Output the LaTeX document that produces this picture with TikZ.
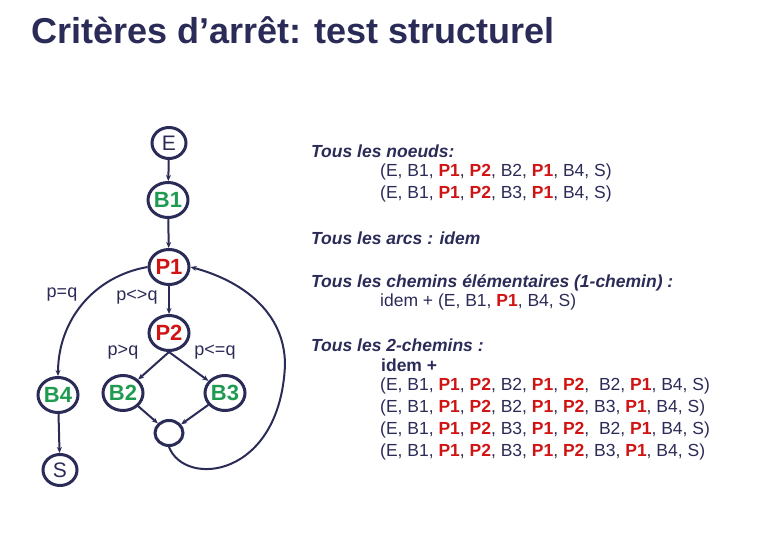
\documentclass[tikz,border=0pt]{standalone}
\usepackage{fontspec}
\setmainfont{Liberation Sans}
\usetikzlibrary{shapes.geometric,arrows.meta}
\definecolor{navy}{RGB}{43,43,88}
\definecolor{grn}{RGB}{30,155,80}
\definecolor{rd}{RGB}{208,20,20}
\newcommand{\Pa}{\textcolor{rd}{\textbf{P1}}}
\newcommand{\Pb}{\textcolor{rd}{\textbf{P2}}}
\begin{document}
\begin{tikzpicture}[x=1pt,y=-1pt,
  nd/.style={ellipse,draw=navy,line width=3pt,minimum width=40pt,minimum height=35pt,inner sep=0pt,font=\fontsize{22}{24}\selectfont\bfseries},
  sm/.style={nd,minimum width=34pt,minimum height=31pt,font=\fontsize{21}{23}\selectfont},
  ed/.style={draw=navy,line width=2pt,-{Stealth[length=6pt,width=5pt]}},
  lbl/.style={text=navy,font=\fontsize{18}{20}\selectfont,inner sep=0pt},
  txt/.style={text=navy,font=\fontsize{17.5}{20}\selectfont,inner sep=0pt,anchor=west},
  hd/.style={txt,font=\fontsize{17.5}{20}\selectfont\bfseries\itshape}]
\useasboundingbox (0,0) rectangle (780,540);
\node[anchor=west,text=navy,font=\fontsize{36}{40}\selectfont\bfseries,inner sep=0pt] (title) at (31,30) {Critères d’arrêt: test structurel};
% graph
\node[sm,text=navy] (E) at (169,143) {E};
\node[nd,text=grn] (B1) at (168,200) {B1};
\node[nd,text=rd] (P1) at (169,267) {P1};
\node[nd,text=rd] (P2) at (169,333) {P2};
\node[nd,text=grn] (B2) at (123,393) {B2};
\node[nd,text=grn] (B3) at (225,393) {B3};
\node[nd,text=grn] (B4) at (58,395) {B4};
\node[sm,text=navy] (S) at (60,470) {S};
\node[ellipse,draw=navy,line width=3pt,minimum width=28pt,minimum height=25pt,inner sep=0pt] (J) at (169,433) {};
\coordinate (loopR) at (285,365);
\draw[ed] (E) -- (B1);
\draw[ed] (B1) -- (P1);
\draw[ed] (P1) -- (P2);
\draw[ed] (P2.south) -- (B2);
\draw[ed] (P2.south) -- (B3);
\draw[ed] (B2) -- (J);
\draw[ed] (B3) -- (J);
\draw[ed] (B4) -- (S);
\draw[ed] (P1.west) to[out=190,in=90] (B4.north);
\draw[ed] (J.south) .. controls (185,488) and (280,478) .. (loopR) to[out=90,in=-15] (P1.east);
\node[lbl] (l1) at (62,295) {p=q};
\node[lbl] (l2) at (137,297) {p<>q};
\node[lbl] (l3) at (123,352) {p>q};
\node[lbl] (l4) at (215,352) {p<=q};
% text
\node[hd] (h1) at (311,151) {Tous les noeuds:};
\node[txt] (t1) at (380,172) {(E, B1, \Pa, \Pb, B2, \Pa, B4, S)};
\node[txt] (t2) at (380,194) {(E, B1, \Pa, \Pb, B3, \Pa, B4, S)};
\node[hd] (h2) at (311,238) {Tous les arcs : idem};
\node[hd] (h3) at (311,283) {Tous les chemins élémentaires (1-chemin) :};
\node[txt] (t3) at (380,302) {idem + (E, B1, \Pa, B4, S)};
\node[hd] (h4) at (311,345) {Tous les 2-chemins :};
\node[txt,font=\fontsize{17.5}{20}\selectfont\bfseries] (t4) at (381,365) {idem +};
\node[txt] (t5) at (380,386) {(E, B1, \Pa, \Pb, B2, \Pa, \Pb, \ B2, \Pa, B4, S)};
\node[txt] (t6) at (380,408) {(E, B1, \Pa, \Pb, B2, \Pa, \Pb, B3, \Pa, B4, S)};
\node[txt] (t7) at (380,430) {(E, B1, \Pa, \Pb, B3, \Pa, \Pb, \ B2, \Pa, B4, S)};
\node[txt] (t8) at (380,452) {(E, B1, \Pa, \Pb, B3, \Pa, \Pb, B3, \Pa, B4, S)};
\end{tikzpicture}
\end{document}
